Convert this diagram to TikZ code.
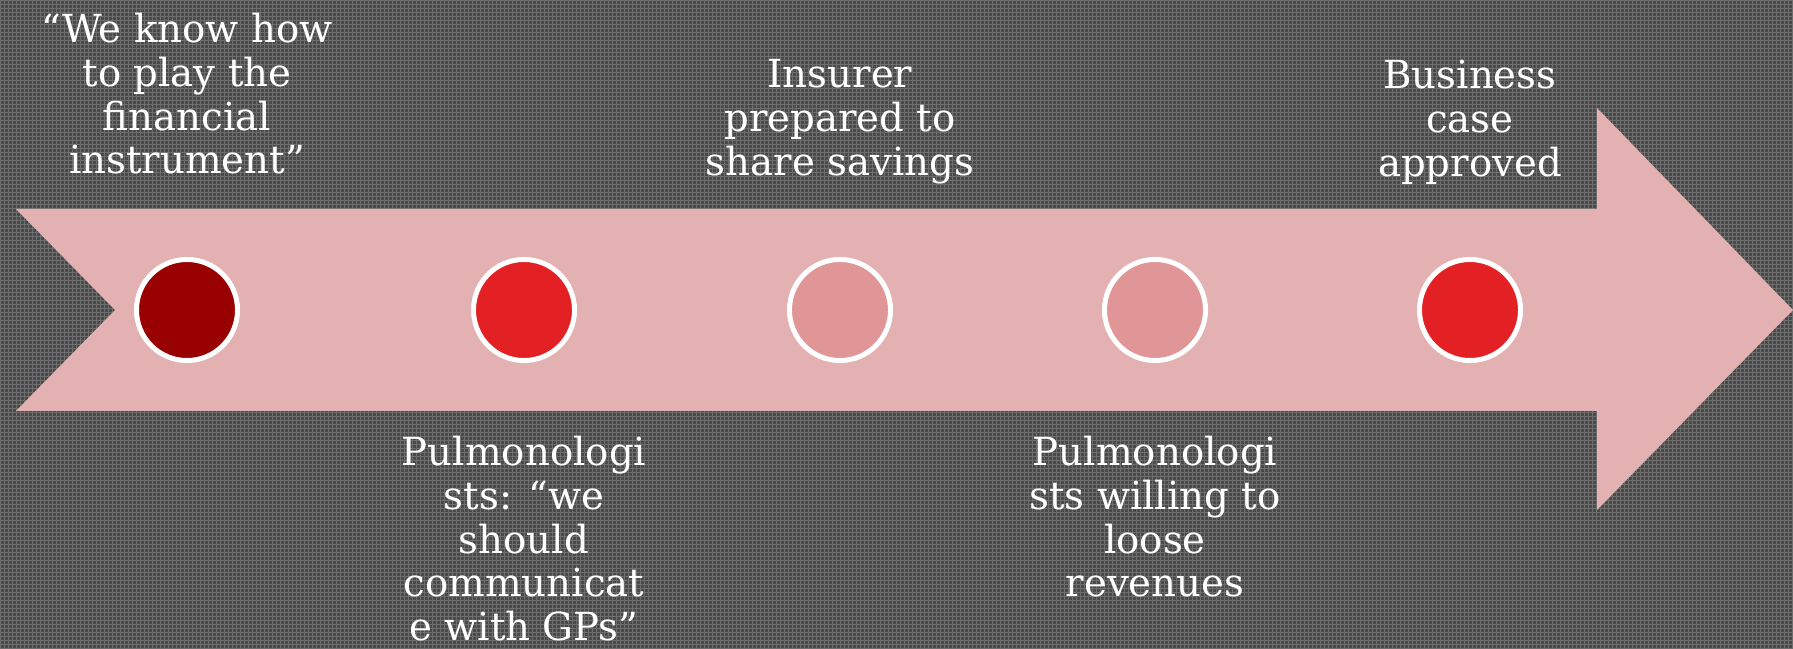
\documentclass[tikz,border=0pt]{standalone}
\usepackage{fontspec}
\setmainfont{DejaVu Serif}
\usetikzlibrary{positioning}

\definecolor{bgdark}{HTML}{4A4A4A}
\definecolor{bggrid}{HTML}{6E6E6E}
\definecolor{arrowpink}{HTML}{E4B1B2}
\definecolor{darkred}{HTML}{990000}
\definecolor{brightred}{HTML}{E32124}
\definecolor{palered}{HTML}{E09597}

\tikzset{
  milestone/.style={circle, draw=white, line width=0.05cm, minimum size=1.01cm, inner sep=0pt},
  caption/.style={text=white, align=center, inner sep=0pt, font=\fontsize{11}{12.5}\selectfont}
}

\begin{document}
\begin{tikzpicture}[x=0.01cm, y=-0.01cm]
			% 背景
			\useasboundingbox (0,0) rectangle (1793,649);
			\fill[bgdark] (0,0) rectangle (1793,649);
			\draw[bggrid, line width=0.15pt, step=0.04cm] (0,0) grid (1793,649);
			% 绘制箭头
			\fill[arrowpink] (16,209) -- (1597,209) -- (1597,108) -- (1793,310)
				-- (1597,510) -- (1597,411) -- (16,411) -- (115,310) -- cycle;
			% 里程碑
			\foreach \i/\x/\c in {1/187/darkred, 2/524/brightred, 3/840/palered, 4/1155/palered, 5/1470/brightred} {
				\node[milestone, fill=\c] (m\i) at (\x,310) {};
			}
			% 上方文字
			\node[caption, anchor=north] (t1) at (187,12) {``We know how\\to play the\\financial\\instrument''};
			\node[caption, anchor=north] (t3) at (840,59) {Insurer\\prepared to\\share savings};
			\node[caption, anchor=north] (t5) at (1470,59) {Business\\case\\approved};
			% 下方文字
			\node[caption, anchor=north] (t2) at (524,435) {Pulmonologi\\sts: ``we\\should\\communicat\\e with GPs''};
			\node[caption, anchor=north] (t4) at (1155,435) {Pulmonologi\\sts willing to\\loose\\revenues};
		\end{tikzpicture}
\end{document}
